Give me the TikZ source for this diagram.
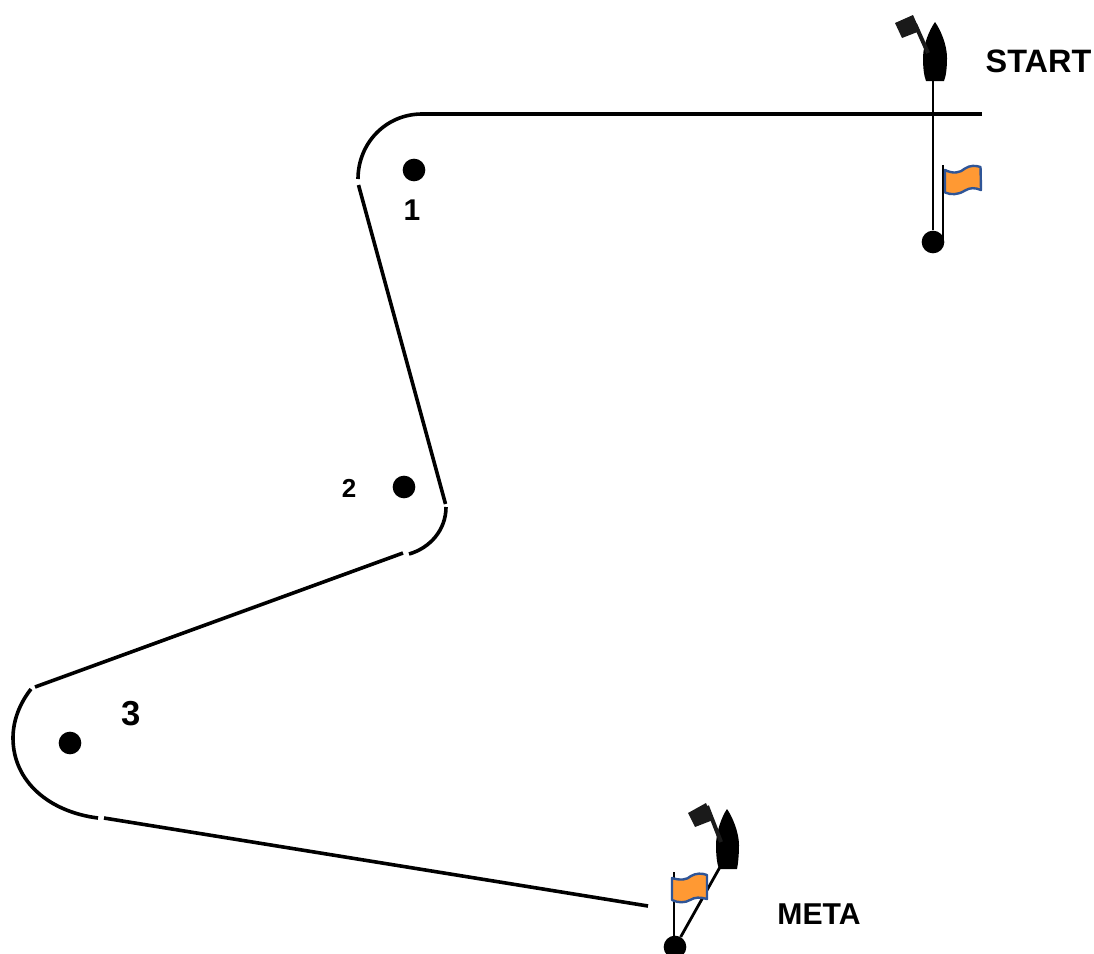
\documentclass[tikz,border=0pt]{standalone}
\usepackage{fontspec}
\setmainfont{Liberation Sans}
\definecolor{flagfill}{HTML}{FF9933}
\definecolor{flagline}{HTML}{2F5597}
\definecolor{pennant}{HTML}{1A1A1A}
\tikzset{
  track/.style={line width=2.7pt,line cap=butt},
  tether/.style={line width=2.1pt},
  flagpole/.style={line width=1.9pt},
  mark dot/.style={circle,fill=black,inner sep=0pt,minimum size=17pt},
  label text/.style={font=\bfseries,inner sep=0pt,text=black},
  flagcloth/.style={fill=flagfill,draw=flagline,line width=1.8pt,line join=round},
  hull/.style={fill=black,draw=none},
  pennantcloth/.style={fill=pennant,draw=none},
  pennantpole/.style={draw=pennant,line width=3pt}
}
\begin{document}
\begin{tikzpicture}[x=0.75pt,y=-0.75pt]
\useasboundingbox (0,0) rectangle (1094,953);
% marks
\node[mark dot] (m1) at (414,170) {};
\node[mark dot] (m2) at (404,487) {};
\node[mark dot] (m3) at (70,743) {};
\node[mark dot] (startdot) at (933,242) {};
\node[mark dot] (metadot) at (675,947) {};
% coordinates of the course
\coordinate (a) at (982,114);
\coordinate (b) at (422,114);
\coordinate (c) at (358,179);
\coordinate (d) at (358.5,185);
\coordinate (e) at (445.5,504);
\coordinate (f) at (446,507);
\coordinate (g) at (409,554);
\coordinate (h) at (403,553);
\coordinate (i) at (35,687);
\coordinate (j) at (31,689);
\coordinate (k) at (13,738);
\coordinate (l) at (98,818);
\coordinate (n) at (104,818);
\coordinate (o) at (648,906);
\coordinate (startstern) at (933,80);
\coordinate (metastern) at (720,867);
% course
\draw[track] (a) -- (b);
\draw[track] (b) .. controls (386,114) and (358,143) .. (c);
\draw[track] (d) -- (e);
\draw[track] (f) .. controls (446,530) and (430,548) .. (g);
\draw[track] (h) -- (i);
\draw[track] (j) .. controls (20,703) and (13,720) .. (k) .. controls (13,782) and (50,812) .. (l);
\draw[track] (n) -- (o);
% start line
\draw[tether] (startstern) -- (startdot);
\coordinate (startpolebase) at (943,240);
\coordinate (startpoletop) at (943,165);
\draw[flagpole] (startpolebase) -- (startpoletop);
\path[flagcloth] (945,170) .. controls (953,174) and (960,173) .. (965,168.5) .. controls (970,165) and (976,165.5) .. (980.5,167) -- (981,190) .. controls (975,187.5) and (970,187.5) .. (965,190.5) .. controls (958,195) and (951,195) .. (945,192.5) -- cycle;
\path[hull] (935,22) .. controls (940,29) and (947,44) .. (947,58) .. controls (947,68) and (946,76) .. (944,81) -- (926,81) .. controls (924,76) and (923,68) .. (923,58) .. controls (923,44) and (930,29) .. (935,22) -- cycle;
\path[pennantcloth] (895,23) -- (913,15) -- (920,31) -- (902,38) -- cycle;
\draw[pennantpole] (915,24) -- (928,53);
% finish line
\draw[tether] (metastern) -- (metadot);
\coordinate (metapolebase) at (674,940);
\coordinate (metapoletop) at (674,872);
\draw[flagpole] (metapolebase) -- (metapoletop);
\path[flagcloth] (672,878) .. controls (680,880.5) and (687,880) .. (691,876) .. controls (696,873) and (702,873) .. (707,875) -- (707,899) .. controls (700,897) and (695,897) .. (690,900) .. controls (685,903) and (678,903) .. (672,900) -- cycle;
\path[hull] (727,809) .. controls (732,816) and (739,832) .. (739,845) .. controls (739,855) and (738,864) .. (737,869) -- (719,869) .. controls (717,864) and (716,855) .. (716,845) .. controls (716,832) and (722,816) .. (727,809) -- cycle;
\path[pennantcloth] (688,813) -- (706,803) -- (713,820) -- (695,827) -- cycle;
\draw[pennantpole] (707,806) -- (721,842);
% labels
\node[label text,font=\fontsize{24.3pt}{27pt}\bfseries] (start) at (1038.5,61) {START};
\node[label text,font=\fontsize{22.6pt}{25pt}\bfseries] (meta) at (819,914) {META};
\node[label text,font=\fontsize{22.5pt}{25pt}\bfseries] (l1) at (412,210) {1};
\node[label text,font=\fontsize{19.5pt}{22pt}\bfseries] (l2) at (349,488) {2};
\node[label text,font=\fontsize{26pt}{28pt}\bfseries] (l3) at (131,714) {3};
\end{tikzpicture}
\end{document}
